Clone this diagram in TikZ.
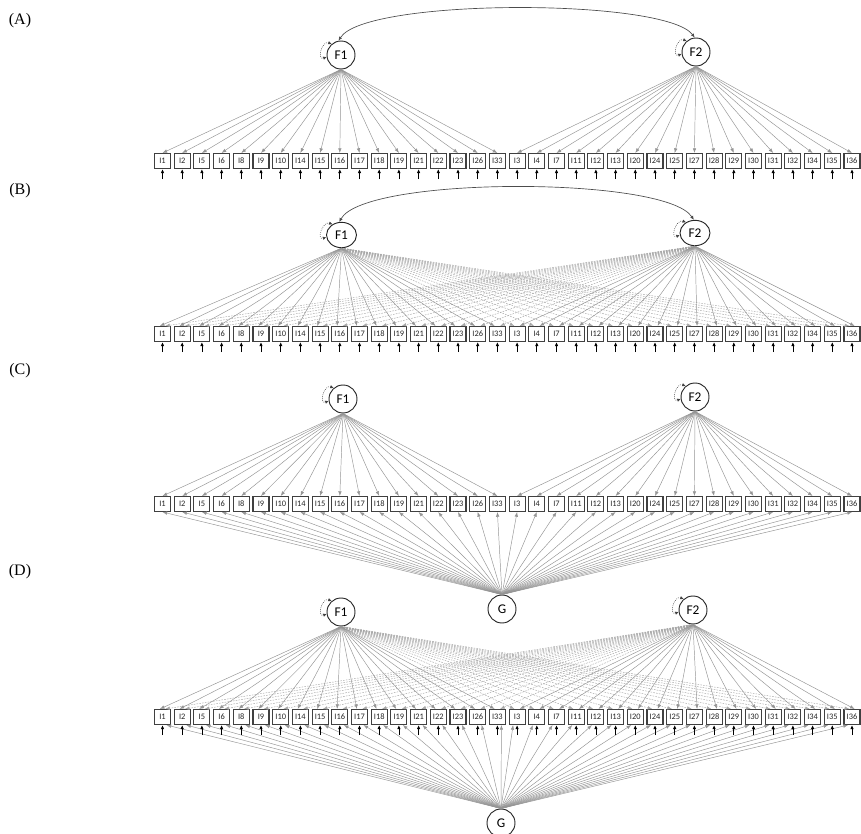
\documentclass[tikz,border=0pt]{standalone}
\usepackage{fontspec}
\setmainfont{Liberation Serif}
\newfontfamily\carl{Carlito}
\usetikzlibrary{arrows.meta,shapes.geometric}
\begin{document}
\begin{tikzpicture}[x=0.75pt,y=0.75pt,
  itembox/.style={draw=black!75,line width=0.8pt,minimum width=12pt,minimum height=11.25pt,inner sep=0pt,fill=white,text=black!85,font=\carl\fontsize{6.3}{6.3}\selectfont},
  latent/.style={circle,draw=black!85,line width=0.7pt,minimum size=21pt,inner sep=0pt,font=\carl\fontsize{10}{10}\selectfont},
  latentE/.style={ellipse,draw=black!85,line width=0.7pt,minimum width=22.5pt,minimum height=19pt,inner sep=0pt,font=\carl\fontsize{10}{10}\selectfont},
  load/.style={draw=black!42,line width=0.35pt,-{Latex[length=3.5pt,width=2.6pt]}},
  cross/.style={load,draw=black!35,dash pattern=on 1.2pt off 0.9pt},
  err/.style={draw=black,line width=0.6pt,-{Latex[length=3pt,width=2.6pt]}},
  selfloop/.style={draw=black!75,line width=0.5pt,densely dotted,{Latex[length=2.6pt,width=2.6pt]}-{Latex[length=2.6pt,width=2.6pt]}},
  cov/.style={draw=black!70,line width=0.5pt,{Latex[length=3pt,width=2.6pt]}-{Latex[length=3pt,width=2.6pt]}},
  panel/.style={font=\fontsize{12}{14}\selectfont}
]
\useasboundingbox (0,-834) rectangle (861,0);
\def\itemlist{I1,I2,I5,I6,I8,I9,I10,I14,I15,I16,I17,I18,I19,I21,I22,I23,I26,I33,I3,I4,I7,I11,I12,I13,I20,I24,I25,I27,I28,I29,I30,I31,I32,I34,I35,I36}
\def\loopcurve#1{\draw[selfloop] (#1.130) .. controls +(160:8pt) and +(200:8pt) .. (#1.188);}

% ---------------- Panel A ----------------
\node[panel] (lA) at (20,-21) {(A)};
\node[latent] (A1) at (341,-55) {F1};
\node[latent] (A2) at (696,-52) {F2};
\foreach \lab [count=\i from 0] in \itemlist
  \node[itembox] (A-\i) at ({162.5+19.7*\i},-161) {\lab};
\foreach \i in {0,...,17} \draw[load] (A1.south) -- (A-\i.north);
\foreach \i in {18,...,35} \draw[load] (A2.south) -- (A-\i.north);
\foreach \i in {0,...,35} {
  \coordinate (eA-\i) at ([yshift=-7.5pt]A-\i.south);
  \draw[err] (eA-\i) -- (A-\i.south);
}
\draw[cov] (A1.100) .. controls (365,2) and (665,2) .. (A2.95);
\loopcurve{A1}
\loopcurve{A2}

% ---------------- Panel B ----------------
\node[panel] (lB) at (20,-191) {(B)};
\node[latentE] (B1) at (341.5,-235) {F1};
\node[latentE] (B2) at (695,-233) {F2};
\foreach \lab [count=\i from 0] in \itemlist
  \node[itembox] (B-\i) at ({162.5+19.7*\i},-334) {\lab};
\foreach \i in {18,...,35} \draw[cross] (B1.south) -- ([xshift=-2pt]B-\i.north);
\foreach \i in {0,...,17} \draw[cross] (B2.south) -- ([xshift=2pt]B-\i.north);
\foreach \i in {0,...,17} \draw[load] (B1.south) -- ([xshift=-2pt]B-\i.north);
\foreach \i in {18,...,35} \draw[load] (B2.south) -- ([xshift=2pt]B-\i.north);
\foreach \i in {0,...,35} {
  \coordinate (eB-\i) at ([yshift=-7.5pt]B-\i.south);
  \draw[err] (eB-\i) -- (B-\i.south);
}
\draw[cov] (B1.100) .. controls (365,-176) and (665,-176) .. (B2.95);
\loopcurve{B1}
\loopcurve{B2}

% ---------------- Panel C ----------------
\node[panel] (lC) at (20,-371) {(C)};
\node[latent] (C1) at (343,-399) {F1};
\node[latent] (C2) at (695,-397) {F2};
\node[latent] (CG) at (502,-609) {G};
\foreach \lab [count=\i from 0] in \itemlist
  \node[itembox] (C-\i) at ({162.5+19.7*\i},-504) {\lab};
\foreach \i in {0,...,17} \draw[load] (C1.south) -- (C-\i.north);
\foreach \i in {18,...,35} \draw[load] (C2.south) -- (C-\i.north);
\foreach \i in {0,...,35} \draw[load] (CG.north) -- (C-\i.south);
\loopcurve{C1}
\loopcurve{C2}

% ---------------- Panel D ----------------
\node[panel] (lD) at (20,-572) {(D)};
\node[latent] (D1) at (341,-612) {F1};
\node[latent] (D2) at (693,-610) {F2};
\node[latent] (DG) at (501,-823) {G};
\foreach \lab [count=\i from 0] in \itemlist
  \node[itembox] (D-\i) at ({162.5+19.7*\i},-717) {\lab};
\foreach \i in {18,...,35} \draw[cross] (D1.south) -- ([xshift=-2pt]D-\i.north);
\foreach \i in {0,...,17} \draw[cross] (D2.south) -- ([xshift=2pt]D-\i.north);
\foreach \i in {0,...,17} \draw[load] (D1.south) -- ([xshift=-2pt]D-\i.north);
\foreach \i in {18,...,35} \draw[load] (D2.south) -- ([xshift=2pt]D-\i.north);
\foreach \i in {0,...,17} \draw[load] (DG.north) -- ([xshift=3pt]D-\i.south);
\foreach \i in {18,...,35} \draw[load] (DG.north) -- ([xshift=-3pt]D-\i.south);
\foreach \i in {0,...,35} {
  \coordinate (eD-\i) at ([yshift=-7.5pt]D-\i.south);
  \draw[err] (eD-\i) -- (D-\i.south);
}
\loopcurve{D1}
\loopcurve{D2}
\end{tikzpicture}
\end{document}
